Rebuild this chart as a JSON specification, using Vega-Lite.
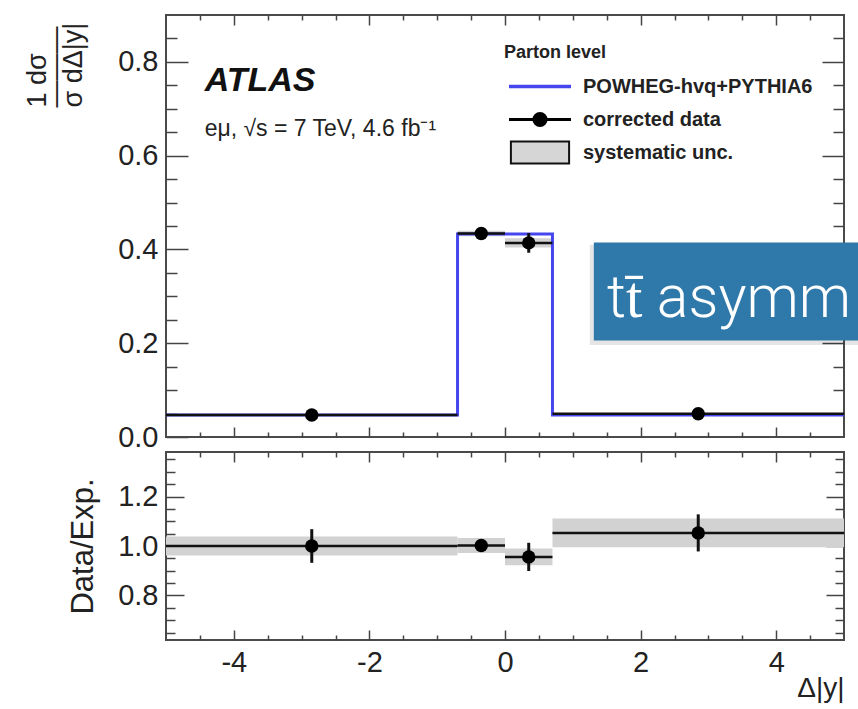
{
  "$schema": "https://vega.github.io/schema/vega-lite/v6.json",
  "background": "white",
  "padding": {"left": 22, "top": 13, "right": 0, "bottom": 0},
  "spacing": 15,
  "bounds": "flush",
  "config": {
    "view": {"stroke": "#4a4a4a", "strokeWidth": 2},
    "axis": {
      "domain": false,
      "grid": false,
      "tickColor": "#444444",
      "tickWidth": 1.5,
      "labelFont": "Liberation Sans",
      "labelColor": "#222222",
      "titleFont": "Liberation Sans",
      "titleColor": "#222222",
      "titleFontWeight": "normal",
      "labelFlush": false,
      "labelOverlap": false
    }
  },
  "datasets": {
    "bins": [
      {"lo": -5, "hi": -0.7, "xc": -2.85, "val": 0.047, "stLo": 0.0445, "stHi": 0.0495, "syLo": 0.0455, "syHi": 0.0485, "r": 1.0, "rStLo": 0.932, "rStHi": 1.068, "rSyLo": 0.962, "rSyHi": 1.038},
      {"lo": -0.7, "hi": 0, "xc": -0.35, "val": 0.434, "stLo": 0.426, "stHi": 0.442, "syLo": 0.428, "syHi": 0.44, "r": 1.002, "rStLo": 0.982, "rStHi": 1.022, "rSyLo": 0.972, "rSyHi": 1.032},
      {"lo": 0, "hi": 0.7, "xc": 0.35, "val": 0.414, "stLo": 0.393, "stHi": 0.435, "syLo": 0.404, "syHi": 0.424, "r": 0.956, "rStLo": 0.899, "rStHi": 1.013, "rSyLo": 0.922, "rSyHi": 0.99},
      {"lo": 0.7, "hi": 5, "xc": 2.85, "val": 0.0495, "stLo": 0.046, "stHi": 0.053, "syLo": 0.048, "syHi": 0.051, "r": 1.053, "rStLo": 0.978, "rStHi": 1.128, "rSyLo": 0.995, "rSyHi": 1.111}
    ],
    "mc": [
      {"x": -5, "y": 0.047},
      {"x": -0.7, "y": 0.433},
      {"x": 0, "y": 0.433},
      {"x": 0.7, "y": 0.047},
      {"x": 5, "y": 0.047}
    ],
    "entries": [
      {"entry": "POWHEG-hvq+PYTHIA6"},
      {"entry": "corrected data"},
      {"entry": "systematic unc."}
    ]
  },
  "resolve": {"scale": {"fill": "independent", "stroke": "independent", "shape": "independent"}},
  "vconcat": [
    {
      "width": 678,
      "height": 422,
      "resolve": {"axis": {"x": "independent", "y": "independent"}},
      "layer": [
        {
          "data": {"name": "bins"},
          "mark": {"type": "rect", "fill": "#d2d2d2"},
          "encoding": {
            "x": {"field": "lo", "type": "quantitative", "scale": {"domain": [-5, 5], "nice": false, "zero": false},
              "axis": {"orient": "bottom", "values": [-4.5,-4,-3.5,-3,-2.5,-2,-1.5,-1,-0.5,0,0.5,1,1.5,2,2.5,3,3.5,4,4.5], "labels": false, "title": null,
                "tickSize": {"condition": {"test": "abs(datum.value/2-round(datum.value/2))<0.001", "value": -10}, "value": -5}}},
            "x2": {"field": "hi"},
            "y": {"field": "syLo", "type": "quantitative", "scale": {"domain": [0, 0.9], "nice": false, "zero": false},
              "axis": {"orient": "left", "values": [0,0.05,0.1,0.15,0.2,0.25,0.3,0.35,0.4,0.45,0.5,0.55,0.6,0.65,0.7,0.75,0.8,0.85],
                "labelExpr": "abs(datum.value*5-round(datum.value*5))<0.001 ? format(datum.value, '.1f') : ''",
                "labelFontSize": 29, "labelPadding": 30,
                "tickSize": {"condition": {"test": "abs(datum.value*5-round(datum.value*5))<0.001", "value": -22}, "value": -11},
                "title": ["1  dσ", "———", "σ dΔ|y|"], "titleFontSize": 27, "titleAngle": -90, "titleAlign": "left", "titleBaseline": "top",
                "titleX": -142, "titleY": 92, "titleLineHeight": 18}},
            "y2": {"field": "syHi"}
          }
        },
        {
          "data": {"name": "mc"},
          "mark": {"type": "line", "interpolate": "step-after", "color": "#4646ee", "strokeWidth": 3},
          "encoding": {
            "x": {"field": "x", "type": "quantitative", "scale": {"domain": [-5, 5], "nice": false, "zero": false},
              "axis": {"orient": "top", "values": [-4.5,-4,-3.5,-3,-2.5,-2,-1.5,-1,-0.5,0,0.5,1,1.5,2,2.5,3,3.5,4,4.5], "labels": false, "title": null,
                "tickSize": {"condition": {"test": "abs(datum.value/2-round(datum.value/2))<0.001", "value": -10}, "value": -5}}},
            "y": {"field": "y", "type": "quantitative", "scale": {"domain": [0, 0.9], "nice": false, "zero": false},
              "axis": {"orient": "right", "values": [0.05,0.1,0.15,0.2,0.25,0.3,0.35,0.4,0.45,0.5,0.55,0.6,0.65,0.7,0.75,0.8,0.85], "labels": false, "title": null,
                "tickSize": {"condition": {"test": "abs(datum.value*5-round(datum.value*5))<0.001", "value": -22}, "value": -11}}}
          }
        },
        {
          "data": {"name": "bins"},
          "mark": {"type": "rule", "color": "#111111", "strokeWidth": 2.5},
          "encoding": {
            "x": {"field": "lo", "type": "quantitative", "scale": {"domain": [-5, 5], "nice": false, "zero": false}, "axis": null},
            "x2": {"field": "hi"},
            "y": {"field": "val", "type": "quantitative", "scale": {"domain": [0, 0.9], "nice": false, "zero": false}, "axis": null}
          }
        },
        {
          "data": {"name": "bins"},
          "mark": {"type": "rule", "color": "#111111", "strokeWidth": 3},
          "encoding": {
            "x": {"field": "xc", "type": "quantitative", "scale": {"domain": [-5, 5], "nice": false, "zero": false}, "axis": null},
            "y": {"field": "stLo", "type": "quantitative", "scale": {"domain": [0, 0.9], "nice": false, "zero": false}, "axis": null},
            "y2": {"field": "stHi"}
          }
        },
        {
          "data": {"name": "bins"},
          "mark": {"type": "point", "filled": true, "shape": "circle", "size": 180, "color": "#000000", "opacity": 1},
          "encoding": {
            "x": {"field": "xc", "type": "quantitative", "scale": {"domain": [-5, 5], "nice": false, "zero": false}, "axis": null},
            "y": {"field": "val", "type": "quantitative", "scale": {"domain": [0, 0.9], "nice": false, "zero": false}, "axis": null}
          }
        },
        {
          "data": {"name": "entries"},
          "mark": {"type": "point", "filled": true, "size": 0, "opacity": 1},
          "encoding": {
            "fill": {"field": "entry", "type": "nominal",
              "scale": {"domain": ["POWHEG-hvq+PYTHIA6", "corrected data", "systematic unc."], "range": ["#4646ee", "#000000", "#d6d6d6"]},
              "legend": {"orient": "none", "legendX": 338, "legendY": 29, "title": "Parton level",
                "titleFont": "Liberation Sans", "titleFontSize": 18, "titleFontWeight": "bold", "titleColor": "#222222", "titlePadding": 8,
                "labelFont": "Liberation Sans", "labelFontSize": 20, "labelFontWeight": "bold", "labelColor": "#222222", "labelOffset": 12, "labelLimit": 400,
                "symbolSize": 3600, "symbolStrokeWidth": 2, "symbolOpacity": 1, "symbolOffset": 5, "clipHeight": 33, "rowPadding": 0, "padding": 0}},
            "stroke": {"field": "entry", "type": "nominal",
              "scale": {"domain": ["POWHEG-hvq+PYTHIA6", "corrected data", "systematic unc."], "range": ["#4646ee", "#000000", "#111111"]}},
            "shape": {"field": "entry", "type": "nominal",
              "scale": {"domain": ["POWHEG-hvq+PYTHIA6", "corrected data", "systematic unc."],
                "range": ["M-1,-0.025H1V0.025H-1Z", "M-1,-0.02H1V0.02H-1Z M0.22,0A0.22,0.22 0 1,1 -0.22,0A0.22,0.22 0 1,1 0.22,0Z", "M-0.97,-0.37H0.97V0.37H-0.97Z"]}}
          }
        },
        {
          "data": {"values": [{}]},
          "mark": {"type": "rect", "color": "#000000", "opacity": 0.1},
          "encoding": {
            "x": {"datum": 1.25, "type": "quantitative", "scale": {"domain": [-5, 5], "nice": false, "zero": false}, "axis": null},
            "x2": {"datum": 5.21},
            "y": {"datum": 0.196, "type": "quantitative", "scale": {"domain": [0, 0.9], "nice": false, "zero": false}, "axis": null},
            "y2": {"datum": 0.41}
          }
        },
        {
          "data": {"values": [{}]},
          "mark": {"type": "rect", "color": "#2e78aa", "opacity": 1},
          "encoding": {
            "x": {"datum": 1.31, "type": "quantitative", "scale": {"domain": [-5, 5], "nice": false, "zero": false}, "axis": null},
            "x2": {"datum": 5.21},
            "y": {"datum": 0.206, "type": "quantitative", "scale": {"domain": [0, 0.9], "nice": false, "zero": false}, "axis": null},
            "y2": {"datum": 0.415}
          }
        },
        {
          "data": {"values": [{}]},
          "mark": {"type": "text", "text": "tt̄ asymm", "font": "Roboto", "fontWeight": 300, "fontSize": 59, "color": "#ffffff",
            "align": "left", "baseline": "alphabetic", "limit": 252, "ellipsis": ""},
          "encoding": {
            "x": {"datum": 1.506, "type": "quantitative", "scale": {"domain": [-5, 5], "nice": false, "zero": false}, "axis": null},
            "y": {"datum": 0.255, "type": "quantitative", "scale": {"domain": [0, 0.9], "nice": false, "zero": false}, "axis": null}
          }
        },
        {
          "data": {"values": [{}]},
          "mark": {"type": "text", "text": "ATLAS", "font": "Liberation Sans", "fontSize": 34, "fontWeight": "bold", "fontStyle": "italic",
            "color": "#111111", "align": "left", "baseline": "alphabetic"},
          "encoding": {
            "x": {"datum": -4.43, "type": "quantitative", "scale": {"domain": [-5, 5], "nice": false, "zero": false}, "axis": null},
            "y": {"datum": 0.738, "type": "quantitative", "scale": {"domain": [0, 0.9], "nice": false, "zero": false}, "axis": null}
          }
        },
        {
          "data": {"values": [{}]},
          "mark": {"type": "text", "text": "eμ,  √s = 7 TeV, 4.6 fb⁻¹", "font": "Liberation Sans", "fontSize": 23,
            "color": "#222222", "align": "left", "baseline": "alphabetic"},
          "encoding": {
            "x": {"datum": -4.43, "type": "quantitative", "scale": {"domain": [-5, 5], "nice": false, "zero": false}, "axis": null},
            "y": {"datum": 0.643, "type": "quantitative", "scale": {"domain": [0, 0.9], "nice": false, "zero": false}, "axis": null}
          }
        }
      ]
    },
    {
      "width": 678,
      "height": 188,
      "resolve": {"axis": {"x": "independent", "y": "independent"}},
      "layer": [
        {
          "data": {"name": "bins"},
          "mark": {"type": "rect", "fill": "#d2d2d2"},
          "encoding": {
            "x": {"field": "lo", "type": "quantitative", "scale": {"domain": [-5, 5], "nice": false, "zero": false},
              "axis": {"orient": "bottom", "values": [-4.5,-4,-3.5,-3,-2.5,-2,-1.5,-1,-0.5,0,0.5,1,1.5,2,2.5,3,3.5,4,4.5],
                "labelExpr": "abs(datum.value/2-round(datum.value/2))<0.001 ? '' + datum.value : ''",
                "labelFontSize": 29, "labelPadding": 18,
                "tickSize": {"condition": {"test": "abs(datum.value/2-round(datum.value/2))<0.001", "value": -10}, "value": -5},
                "title": "Δ|y|", "titleFontSize": 28, "titleAnchor": "end", "titleBaseline": "top", "titleY": 34}},
            "x2": {"field": "hi"},
            "y": {"field": "rSyLo", "type": "quantitative", "scale": {"domain": [0.62, 1.38], "nice": false, "zero": false},
              "axis": {"orient": "left", "values": [0.65,0.7,0.75,0.8,0.85,0.9,0.95,1,1.05,1.1,1.15,1.2,1.25,1.3,1.35],
                "labelExpr": "abs(datum.value*5-round(datum.value*5))<0.001 ? format(datum.value, '.1f') : ''",
                "labelFontSize": 29, "labelPadding": 26,
                "tickSize": {"condition": {"test": "abs(datum.value*5-round(datum.value*5))<0.001", "value": -18}, "value": -9},
                "title": "Data/Exp.", "titleFontSize": 31, "titlePadding": 18}},
            "y2": {"field": "rSyHi"}
          }
        },
        {
          "data": {"name": "bins"},
          "mark": {"type": "rule", "color": "#111111", "strokeWidth": 2.5},
          "encoding": {
            "x": {"field": "lo", "type": "quantitative", "scale": {"domain": [-5, 5], "nice": false, "zero": false},
              "axis": {"orient": "top", "values": [-4.5,-4,-3.5,-3,-2.5,-2,-1.5,-1,-0.5,0,0.5,1,1.5,2,2.5,3,3.5,4,4.5], "labels": false, "title": null,
                "tickSize": {"condition": {"test": "abs(datum.value/2-round(datum.value/2))<0.001", "value": -10}, "value": -5}}},
            "x2": {"field": "hi"},
            "y": {"field": "r", "type": "quantitative", "scale": {"domain": [0.62, 1.38], "nice": false, "zero": false},
              "axis": {"orient": "right", "values": [0.65,0.7,0.75,0.8,0.85,0.9,0.95,1,1.05,1.1,1.15,1.2,1.25,1.3,1.35], "labels": false, "title": null,
                "tickSize": {"condition": {"test": "abs(datum.value*5-round(datum.value*5))<0.001", "value": -18}, "value": -9}}}
          }
        },
        {
          "data": {"name": "bins"},
          "mark": {"type": "rule", "color": "#111111", "strokeWidth": 3},
          "encoding": {
            "x": {"field": "xc", "type": "quantitative", "scale": {"domain": [-5, 5], "nice": false, "zero": false}, "axis": null},
            "y": {"field": "rStLo", "type": "quantitative", "scale": {"domain": [0.62, 1.38], "nice": false, "zero": false}, "axis": null},
            "y2": {"field": "rStHi"}
          }
        },
        {
          "data": {"name": "bins"},
          "mark": {"type": "point", "filled": true, "shape": "circle", "size": 180, "color": "#000000", "opacity": 1},
          "encoding": {
            "x": {"field": "xc", "type": "quantitative", "scale": {"domain": [-5, 5], "nice": false, "zero": false}, "axis": null},
            "y": {"field": "r", "type": "quantitative", "scale": {"domain": [0.62, 1.38], "nice": false, "zero": false}, "axis": null}
          }
        }
      ]
    }
  ]
}
